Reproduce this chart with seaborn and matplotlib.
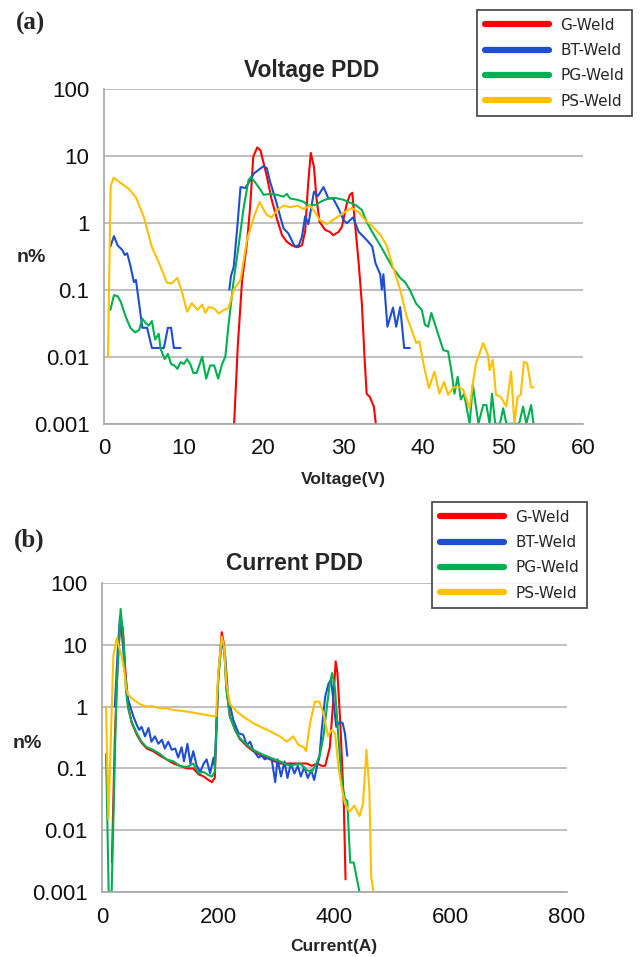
import matplotlib
matplotlib.use("Agg")
import matplotlib.pyplot as plt
from matplotlib.lines import Line2D
from matplotlib.ticker import NullLocator
import pandas as pd
import seaborn as sns

SERIES = ["G-Weld", "BT-Weld", "PG-Weld", "PS-Weld"]
COLORS = ["#ff0000", "#1f4fd1", "#00b050", "#ffc000"]
Y_TICKS = [0.001, 0.01, 0.1, 1, 10, 100]
Y_LABELS = ["0.001", "0.01", "0.1", "1", "10", "100"]
V_TICKS = [0, 10, 20, 30, 40, 50, 60]
I_TICKS = [0, 200, 400, 600, 800]

# ---------------- Voltage PDD (n% vs voltage) ----------------
g_volt = [16.3, 16.75, 17.3, 17.9, 18.3, 18.7, 19.2, 19.6, 20.0, 20.4, 21.0, 21.7,
          22.3, 22.9, 23.5, 24.2, 24.8, 25.2, 25.55, 25.9, 26.3, 26.6, 27.0, 27.7,
          28.3, 28.7, 29.4, 29.8, 30.4, 30.8, 31.1, 31.4, 31.9, 32.3, 32.65, 32.9,
          33.3, 33.8, 34.05]
g_volt_n = [0.001, 0.014, 0.14, 0.49, 1.7, 9.7, 13.3, 12.0, 7.7, 4.9, 2.2, 1.1,
            0.65, 0.52, 0.46, 0.43, 0.46, 0.75, 3.5, 11.0, 6.8, 2.4, 1.03, 0.78,
            0.73, 0.65, 0.73, 0.87, 1.9, 2.6, 2.8, 1.1, 0.25, 0.062, 0.009, 0.0028,
            0.0025, 0.0018, 0.001]

bt_volt_low = [0.8, 1.25, 1.7, 2.3, 2.6, 2.9, 3.3, 3.75, 4.0, 4.4, 4.8, 5.4, 6.0,
               6.7, 7.5, 8.0, 8.4, 8.75, 9.6]
bt_volt_low_n = [0.44, 0.63, 0.46, 0.39, 0.33, 0.35, 0.23, 0.13, 0.14, 0.062, 0.027,
                 0.027, 0.0135, 0.0135, 0.0135, 0.027, 0.027, 0.0135, 0.0135]
bt_volt_high = [15.7, 15.9, 16.25, 16.7, 17.1, 17.7, 18.1, 18.75, 19.4, 20.0, 20.4,
                20.8, 21.5, 22.1, 22.5, 23.1, 23.5, 23.9, 24.4, 24.8, 25.2, 25.6,
                26.3, 26.8, 27.5, 28.1, 28.7, 29.4, 30.0, 30.4, 31.2, 31.9, 32.5,
                33.1, 33.6, 34.0, 34.6, 34.8, 35.0, 35.5, 36.2, 36.6, 37.1, 37.6, 38.3]
bt_volt_high_n = [0.1, 0.16, 0.22, 0.87, 3.4, 3.3, 3.9, 5.4, 6.2, 7.0, 6.5,
                  4.1, 2.2, 1.2, 0.82, 0.69, 0.55, 0.44, 0.46, 0.62, 1.25, 0.95,
                  2.9, 2.5, 3.4, 2.3, 2.3, 1.6, 1.1, 0.98, 1.2, 0.73, 0.62,
                  0.52, 0.44, 0.25, 0.17, 0.1, 0.17, 0.028, 0.054, 0.028, 0.055, 0.0135, 0.0135]

pg_volt = [0.8, 1.25, 1.7, 2.1, 2.7, 3.3, 3.9, 4.4, 4.8, 5.2, 5.6, 6.0, 6.4, 6.85,
           7.1, 7.6, 8.0, 8.4, 8.8, 9.2, 9.6, 10.0, 10.4, 10.8, 11.2, 11.6, 12.3,
           12.8, 13.3, 13.8, 14.3, 14.8, 15.2, 15.6, 16.25, 16.9, 17.5, 18.1, 18.4,
           19.0, 19.6, 20.0, 20.8, 21.7, 22.5, 22.9, 23.3, 24.2, 25.0, 25.6, 26.5,
           27.3, 28.1, 28.9, 30.0, 30.8, 31.6, 32.3, 32.9, 33.7, 34.6, 35.4, 36.2,
           37.1, 37.7, 38.3, 39.1, 39.8, 40.2, 40.6, 41.0, 41.6, 42.5, 43.1, 43.5,
           43.9, 44.3, 44.7, 45.1, 45.8, 46.2, 46.9, 47.5, 47.9, 48.3, 48.6, 49.0,
           49.6, 50.0, 50.4, 51.0, 52.0, 52.5, 52.9, 53.5, 53.8]
pg_volt_n = [0.05, 0.083, 0.08, 0.066, 0.04, 0.027, 0.023, 0.025, 0.037, 0.032,
             0.029, 0.034, 0.018, 0.022, 0.013, 0.0092, 0.011, 0.0078, 0.0074,
             0.0066, 0.0083, 0.0078, 0.0092, 0.0078, 0.0057, 0.0057, 0.01, 0.0047,
             0.0074, 0.0074, 0.0047, 0.0078, 0.01, 0.03, 0.14, 0.49, 1.7, 4.3, 4.8,
             3.9, 3.1, 2.6, 2.7, 2.6, 2.45, 2.7, 2.3, 2.2, 2.05, 1.8, 1.85, 2.1, 2.3,
             2.35, 2.2, 2.0, 1.8, 1.55, 1.03, 0.69, 0.46, 0.31, 0.21, 0.15, 0.13,
             0.1, 0.062, 0.05, 0.03, 0.028, 0.045, 0.027, 0.0125, 0.012, 0.0063,
             0.0028, 0.005, 0.0023, 0.0028, 0.001, 0.0038, 0.001, 0.0019, 0.0019,
             0.001, 0.0028, 0.001, 0.001, 0.0017, 0.001, 0.001, 0.001, 0.0018, 0.001,
             0.0019, 0.001]

ps_volt = [0.5, 0.83, 1.2, 2.1, 3.1, 4.0, 5.0, 6.0, 6.9, 7.9, 8.5, 9.2, 9.8, 10.4,
           11.0, 11.7, 12.3, 12.7, 13.1, 13.75, 14.4, 15.0, 15.6, 16.25, 17.1, 17.9,
           18.75, 19.5, 20.0, 20.4, 21.0, 21.7, 22.5, 23.3, 24.2, 25.0, 25.8, 26.5,
           27.0, 27.9, 28.7, 30.0, 31.0, 31.9, 32.7, 33.5, 34.6, 35.4, 36.2, 37.1,
           37.9, 38.4, 39.1, 39.5, 40.1, 40.7, 41.4, 42.0, 42.6, 43.1, 43.7, 44.3,
           45.0, 45.8, 46.2, 46.6, 47.5, 48.1, 48.3, 48.7, 49.1, 49.7, 50.4, 51.0,
           51.4, 51.8, 52.2, 52.6, 53.0, 53.5, 53.8]
ps_volt_n = [0.01, 3.5, 4.7, 3.9, 3.2, 2.4, 1.2, 0.43, 0.25, 0.126, 0.125, 0.15,
             0.089, 0.047, 0.063, 0.05, 0.06, 0.045, 0.055, 0.053, 0.044, 0.05,
             0.053, 0.1, 0.14, 0.55, 1.2, 2.05, 1.55, 1.3, 1.2, 1.55, 1.8, 1.7, 1.8,
             1.6, 1.8, 1.4, 1.1, 0.95, 1.1, 1.4, 1.65, 1.45, 1.1, 0.92, 0.66, 0.46,
             0.22, 0.1, 0.04, 0.028, 0.016, 0.017, 0.007, 0.0034, 0.006, 0.0028,
             0.0042, 0.0027, 0.0034, 0.0036, 0.0032, 0.0017, 0.004, 0.008, 0.016,
             0.0106, 0.0063, 0.009, 0.0027, 0.0025, 0.0018, 0.006, 0.001, 0.0025,
             0.0027, 0.0084, 0.008, 0.0035, 0.0035]

# ---------------- Current PDD (n% vs current) ----------------
g_curr = [17, 22, 27, 32, 36, 40, 45, 51, 60, 68, 77, 88, 100, 111, 123, 134, 146,
          157, 166, 174, 183, 189, 194, 200, 206, 210, 214, 220, 229, 237, 249, 260,
          275, 289, 306, 323, 341, 352, 361, 370, 378, 384, 392, 398, 402, 405, 410,
          414, 416, 419]
g_curr_n = [0.003, 0.3, 5.0, 26.0, 18.0, 4.0, 1.0, 0.55, 0.35, 0.26, 0.21, 0.19,
            0.16, 0.14, 0.12, 0.11, 0.1, 0.1, 0.08, 0.075, 0.065, 0.06, 0.07, 3.0,
            16.0, 10.0, 2.0, 0.7, 0.42, 0.3, 0.23, 0.19, 0.16, 0.14, 0.12, 0.12,
            0.12, 0.12, 0.11, 0.12, 0.11, 0.11, 0.22, 1.3, 5.4, 3.5, 0.54, 0.074,
            0.027, 0.0016]

bt_curr = [22, 27, 31, 36, 40, 45, 54, 60, 64, 68, 74, 80, 85, 91, 97, 103, 108, 114,
           120, 126, 131, 137, 141, 147, 152, 157, 163, 169, 175, 180, 186, 192, 194,
           200, 206, 212, 217, 226, 235, 243, 249, 255, 260, 269, 275, 280, 286, 292,
           298, 302, 308, 314, 319, 325, 331, 337, 342, 348, 354, 360, 365, 371, 374,
           378, 384, 390, 394, 398, 403, 409, 414, 418, 422]
bt_curr_n = [1.0, 8.0, 29.0, 10.0, 3.1, 1.3, 0.69, 0.5, 0.42, 0.47, 0.33, 0.45, 0.27,
             0.33, 0.25, 0.29, 0.21, 0.27, 0.2, 0.21, 0.15, 0.22, 0.13, 0.25, 0.12,
             0.19, 0.11, 0.088, 0.12, 0.14, 0.083, 0.15, 0.11, 3.1, 12.0, 6.5, 1.45,
             0.6, 0.37, 0.35, 0.24, 0.27, 0.2, 0.15, 0.16, 0.14, 0.15, 0.14, 0.06,
             0.14, 0.074, 0.13, 0.07, 0.12, 0.083, 0.11, 0.074, 0.105, 0.07, 0.094,
             0.065, 0.12, 0.15, 0.42, 1.45, 2.4, 2.7, 1.3, 0.47, 0.57, 0.54, 0.37, 0.16]

pg_curr = [7, 11.5, 16.6, 25, 32, 37, 41, 45, 51, 60, 68, 77, 88, 100, 111, 123, 134,
           146, 157, 166, 174, 183, 189, 194, 200, 206, 210, 214, 220, 229, 237, 249,
           260, 275, 289, 306, 323, 341, 352, 361, 369, 375, 381, 387, 392, 396, 401,
           407, 413, 418, 422, 427, 433, 443]
pg_curr_n = [0.17, 0.001, 0.001, 1.9, 38.0, 12.0, 1.9, 0.94, 0.57, 0.37, 0.27, 0.22,
             0.2, 0.17, 0.14, 0.13, 0.11, 0.105, 0.12, 0.083, 0.088, 0.078, 0.074,
             0.088, 2.7, 12.0, 9.4, 1.9, 0.69, 0.42, 0.31, 0.24, 0.2, 0.17, 0.15, 0.13,
             0.11, 0.12, 0.094, 0.088, 0.12, 0.17, 0.33, 1.0, 2.4, 3.5, 1.9, 0.29,
             0.057, 0.032, 0.03, 0.003, 0.003, 0.001]

ps_curr = [7, 11, 19.5, 25, 30, 34, 38, 42, 45, 54, 65, 77, 85, 100, 111, 123, 134,
           146, 157, 169, 180, 192, 196, 200, 206, 210, 214, 220, 232, 243, 260, 277,
           289, 306, 318, 329, 338, 347, 351, 358, 366, 374, 381, 389, 395, 401, 407,
           413, 418, 426, 434, 443, 449, 455, 460, 463, 467]
ps_curr_n = [1.0, 0.015, 6.5, 12.8, 8.8, 6.5, 3.9, 1.9, 1.55, 1.3, 1.1, 1.0, 1.02,
             0.94, 0.94, 0.88, 0.86, 0.83, 0.8, 0.76, 0.73, 0.7, 0.7, 3.5, 13.6, 9.4,
             2.4, 1.1, 0.83, 0.69, 0.54, 0.45, 0.4, 0.33, 0.27, 0.33, 0.24, 0.22, 0.19,
             0.54, 1.2, 1.2, 0.78, 0.33, 0.42, 0.37, 0.1, 0.045, 0.027, 0.02, 0.025,
             0.017, 0.027, 0.2, 0.045, 0.0018, 0.001]


def long_frame(parts):
    """parts: list of (series, segment id, x list, n list)."""
    rows = []
    for name, seg, xs, ns in parts:
        for x, n in zip(xs, ns):
            rows.append({"x": x, "n": n, "series": name, "seg": f"{name}-{seg}"})
    return pd.DataFrame(rows)


volt_df = long_frame([
    ("G-Weld", 0, g_volt, g_volt_n),
    ("BT-Weld", 0, bt_volt_low, bt_volt_low_n),
    ("BT-Weld", 1, bt_volt_high, bt_volt_high_n),
    ("PG-Weld", 0, pg_volt, pg_volt_n),
    ("PS-Weld", 0, ps_volt, ps_volt_n),
])
curr_df = long_frame([
    ("G-Weld", 0, g_curr, g_curr_n),
    ("BT-Weld", 0, bt_curr, bt_curr_n),
    ("PG-Weld", 0, pg_curr, pg_curr_n),
    ("PS-Weld", 0, ps_curr, ps_curr_n),
])

sns.set_theme(style="white")
plt.rcParams["font.family"] = ["Liberation Sans", "DejaVu Sans"]

W, H = 640, 957
fig = plt.figure(figsize=(W / 100, H / 100), dpi=100)
palette = dict(zip(SERIES, COLORS))
AX_GRAY = "#a6a6a6"


def px_axes(left, top, right, bottom):
    return fig.add_axes([left / W, 1 - bottom / H, (right - left) / W, (bottom - top) / H])


def style_axes(ax, xticks, xmax):
    ax.set_yscale("log")
    ax.set_ylim(0.001, 100)
    ax.set_xlim(0, xmax)
    ax.set_yticks(Y_TICKS)
    ax.set_yticklabels(Y_LABELS)
    ax.yaxis.set_minor_locator(NullLocator())
    ax.set_xticks(xticks)
    ax.set_xticklabels([str(t) for t in xticks])
    for side in ("top", "right"):
        ax.spines[side].set_visible(False)
    for side in ("left", "bottom"):
        ax.spines[side].set_color(AX_GRAY)
        ax.spines[side].set_linewidth(1.2)
    ax.grid(axis="y", color="#b4b4b4", linewidth=1.2)
    ax.grid(axis="x", visible=False)
    ax.tick_params(axis="both", which="major", direction="out", length=4.5, width=1.1,
                   color=AX_GRAY, labelsize=16, labelcolor="#111111")
    ax.tick_params(axis="y", pad=6)
    ax.tick_params(axis="x", pad=6)
    ax.set_xlabel("")
    ax.set_ylabel("")


def draw(ax, df):
    ax.set_yscale("log")
    sns.lineplot(data=df, x="x", y="n", hue="series", hue_order=SERIES,
                 palette=palette, units="seg", estimator=None, sort=False,
                 linewidth=1.5, legend=False, ax=ax)


def add_legend(left_px, top_px):
    handles = [Line2D([0], [0], color=c, lw=4.5) for c in COLORS]
    leg = fig.legend(handles, SERIES, loc="upper left",
                     bbox_to_anchor=(left_px / W, 1 - top_px / H),
                     prop={"family": "DejaVu Sans", "size": 11},
                     frameon=True, fancybox=False, edgecolor="#222222",
                     handlelength=4.2, handletextpad=0.75, labelspacing=0.68,
                     borderpad=0.5, borderaxespad=0.0)
    leg.get_frame().set_linewidth(1.3)
    return leg


# panel (a)
ax_a = px_axes(104, 88.7, 583, 423.7)
draw(ax_a, volt_df)
style_axes(ax_a, V_TICKS, 60)

# panel (b)
ax_b = px_axes(102, 583, 567, 892)
draw(ax_b, curr_df)
style_axes(ax_b, I_TICKS, 800)

add_legend(477, 10)
add_legend(432, 502)

serif = ["Liberation Serif", "DejaVu Serif"]
fig.text(16 / W, 1 - 23 / H, "(a)", family=serif, weight="bold", size=18, va="center", ha="left")
fig.text(14 / W, 1 - 540 / H, "(b)", family=serif, weight="bold", size=18, va="center", ha="left")

fig.text(312 / W, 1 - 70 / H, "Voltage PDD", weight="bold", size=16.5, ha="center", va="center")
fig.text(294 / W, 1 - 563 / H, "Current PDD", weight="bold", size=16.5, ha="center", va="center")

fig.text(31 / W, 1 - 257 / H, "n%", weight="bold", size=14, ha="center", va="center")
fig.text(27 / W, 1 - 743 / H, "n%", weight="bold", size=14, ha="center", va="center")

fig.text(343 / W, 1 - 480 / H, "Voltage(V)", weight="bold", size=12.5, ha="center", va="center")
fig.text(334 / W, 1 - 947 / H, "Current(A)", weight="bold", size=12.5, ha="center", va="center")

fig.savefig("out.png", dpi=100)
